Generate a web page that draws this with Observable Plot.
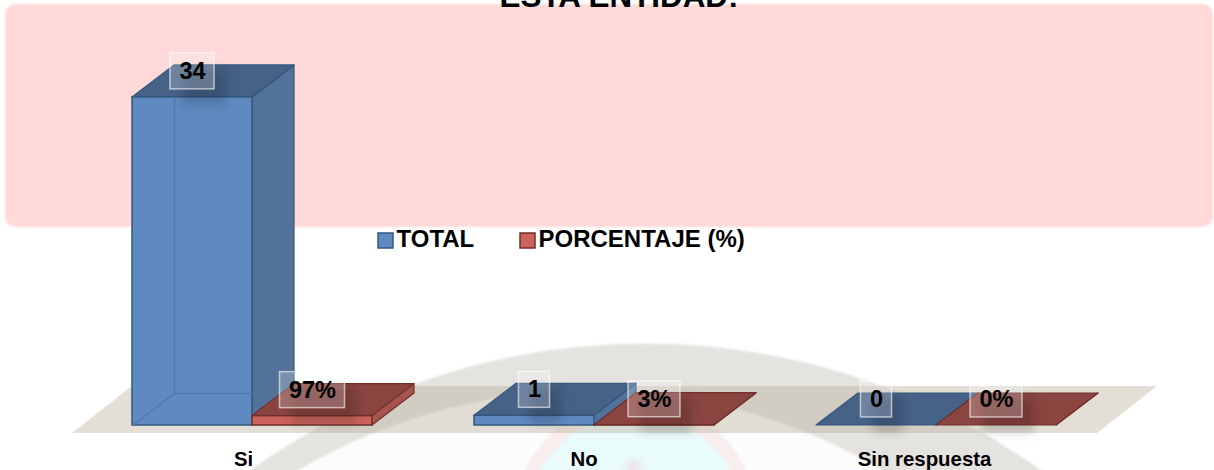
<!DOCTYPE html>
<html><head><meta charset="utf-8">
<script src="https://cdn.jsdelivr.net/npm/d3@7"></script>
<script src="https://cdn.jsdelivr.net/npm/@observablehq/plot@0.6"></script>
<style>
html,body{margin:0;padding:0;background:#fff;overflow:hidden}
</style></head><body><div id="chart"></div>
<script>
const categories = ["Si", "No", "Sin respuesta"];
const total = [34, 1, 0];
const porcentaje = [0.97, 0.03, 0];
const seriesNames = ["TOTAL", "PORCENTAJE (%)"];
const titleText = "ESTA ENTIDAD:";

// x: one unit = one category; y: value units
const W = 1214, H = 470, pxX = 1 / 342, pxY = 1 / 9.65;
const X = (p) => (p - 132) * pxX;
const Y = (p) => (425 - p) * pxY;
const barW = 120 * pxX, depthX = 42 * pxX, depthY = 32 * pxY;
const idx = categories.map((_, i) => i);

const blurred = (amount) => (index, scales, values, dims, ctx, next) => {
  const g = next(index, scales, values, dims, ctx);
  g.style.filter = `blur(${amount}px)`;
  return g;
};

const pal = {
  blue: {front: "#5f8ac1", side: "#527299", top: "#466287", edge: "#34577f", inner: "#4f79ae"},
  red:  {front: "#cb625b", side: "#a8544e", top: "#8a4540", edge: "#702f2b", inner: "#b5524c"}
};

function barMarks(values, shift, c) {
  const left = (i) => i + shift;
  const side = idx.flatMap((i) => [
    {z: i, x: left(i) + barW, y1: 0, y2: values[i]},
    {z: i, x: left(i) + barW + depthX, y1: depthY, y2: values[i] + depthY}
  ]);
  const top = idx.flatMap((i) => [
    {z: i, y: values[i], x1: left(i), x2: left(i) + barW},
    {z: i, y: values[i] + depthY, x1: left(i) + depthX, x2: left(i) + barW + depthX}
  ]);
  return [
    Plot.areaY(side, {x: "x", y1: "y1", y2: "y2", z: "z", fill: c.side, stroke: c.edge, strokeWidth: 1.2}),
    Plot.areaX(top, {y: "y", x1: "x1", x2: "x2", z: "z", fill: c.top, stroke: c.edge, strokeWidth: 1.2}),
    Plot.rect(idx.filter((i) => values[i] > 0), {
      x1: left, x2: (i) => left(i) + barW, y1: () => 0, y2: (i) => values[i],
      fill: c.front, stroke: c.edge, strokeWidth: 1.5
    }),
    // back edges seen through the translucent front of a tall bar
    Plot.ruleX(idx.filter((i) => values[i] > 5), {
      x: (i) => left(i) + depthX, y1: () => depthY, y2: (i) => values[i], stroke: c.inner, strokeWidth: 1.5
    }),
    Plot.ruleY(idx.filter((i) => values[i] > 5), {
      y: () => depthY, x1: (i) => left(i) + depthX, x2: (i) => left(i) + barW, stroke: c.inner, strokeWidth: 1.5
    }),
    Plot.link(idx.filter((i) => values[i] > 5), {
      x1: left, y1: () => 0, x2: (i) => left(i) + depthX, y2: () => depthY, stroke: c.inner, strokeWidth: 1.5
    })
  ];
}

const fs = 23.5;
const labelWidth = (s) => [...s].reduce((a, ch) => a + (ch === "%" ? 0.889 : 0.556), 0) * fs + 18;
const labels = [
  ...idx.map((i) => ({x: i + barW / 2, v: total[i], t: String(total[i])})),
  ...idx.map((i) => ({x: i + barW + barW / 2, v: porcentaje[i], t: Math.round(porcentaje[i] * 100) + "%"}))
].map((d) => ({...d, w: labelWidth(d.t) * pxX / 2}));
const boxH = 18 * pxY;

const floor = [
  {y: 0 - 8 * pxY, x1: X(72), x2: X(1097)},
  {y: Y(386), x1: X(132), x2: X(1157)}
];

const chart = Plot.plot({
  width: W, height: H,
  marginTop: 0, marginRight: 0, marginBottom: 0, marginLeft: 0,
  style: {background: "#fff", overflow: "hidden", fontFamily: "'Liberation Sans', Arial, sans-serif"},
  x: {type: "linear", domain: [X(0), X(W)], range: [0, W], axis: null},
  y: {type: "linear", domain: [Y(H), Y(0)], range: [H, 0], axis: null},
  marks: [
    // watermark behind the chart
    Plot.dot([0], {x: () => X(645), y: () => Y(1023), r: 680, fill: "#e5e3e0", render: blurred(1)}),
    Plot.dot([0], {x: () => X(590), y: () => Y(965), r: 575, fill: "#fdfcfc", render: blurred(1)}),
    Plot.dot([0], {x: () => X(635), y: () => Y(521), r: 122, fill: "#f8eeee", render: blurred(1)}),
    Plot.dot([0], {x: () => X(635), y: () => Y(521), r: 108, fill: "#e9fbfb", render: blurred(1)}),
    Plot.dot([0], {x: () => X(633), y: () => Y(467), r: 8, fill: "#eee4ea", render: blurred(3)}),
    // pink band
    Plot.rect([0], {x1: () => X(5), x2: () => X(1213), y1: () => Y(227), y2: () => Y(4), rx: 10, fill: "#ffdad8", render: blurred(1.2)}),
    // floor
    Plot.areaX(floor, {y: "y", x1: "x1", x2: "x2", fill: "#b3a78f", fillOpacity: 0.37, render: blurred(0.6)}),
    ...barMarks(total, 0, pal.blue),
    ...barMarks(porcentaje, barW, pal.red),
    // label shadows and boxes
    Plot.rect(labels, {x1: (d) => d.x - d.w, x2: (d) => d.x + d.w, y1: (d) => d.v - boxH, y2: (d) => d.v + boxH,
      dx: 12, dy: -10, fill: "#000", fillOpacity: 0.15, render: blurred(5)}),
    Plot.rect(labels, {x1: (d) => d.x - d.w, x2: (d) => d.x + d.w, y1: (d) => d.v - boxH, y2: (d) => d.v + boxH,
      dy: -26, fill: "#fff", fillOpacity: 0.22, stroke: "#fff", strokeOpacity: 0.6, strokeWidth: 1.5}),
    Plot.text(labels, {x: "x", y: "v", text: "t", dy: -26, fontSize: fs, fontWeight: "bold", fill: "#000"}),
    // category labels
    Plot.text(categories, {x: (d, i) => X(243 + 340.5 * i), y: () => Y(458.5), text: (d) => d, fontSize: 20.4, fontWeight: "bold", fill: "#000"}),
    // legend
    Plot.rect([0, 1], {x1: (i) => X(378 + 142 * i), x2: (i) => X(393 + 142 * i), y1: () => Y(248), y2: () => Y(233),
      fill: (i) => i ? pal.red.front : pal.blue.front, stroke: (i) => i ? pal.red.edge : pal.blue.edge, strokeWidth: 1.5}),
    Plot.text(seriesNames, {x: (d, i) => X(396 + 142 * i), y: () => Y(239), text: (d) => d, textAnchor: "start", fontSize: 24, fontWeight: "bold", fill: "#000"}),
    // title, cut by the top of the picture
    Plot.text([titleText], {x: () => X(618.5), y: () => Y(-4), text: (d) => d, fontSize: 31.4, fontWeight: "bold", fill: "#000"})
  ]
});
document.getElementById("chart").append(chart);
</script></body></html>
